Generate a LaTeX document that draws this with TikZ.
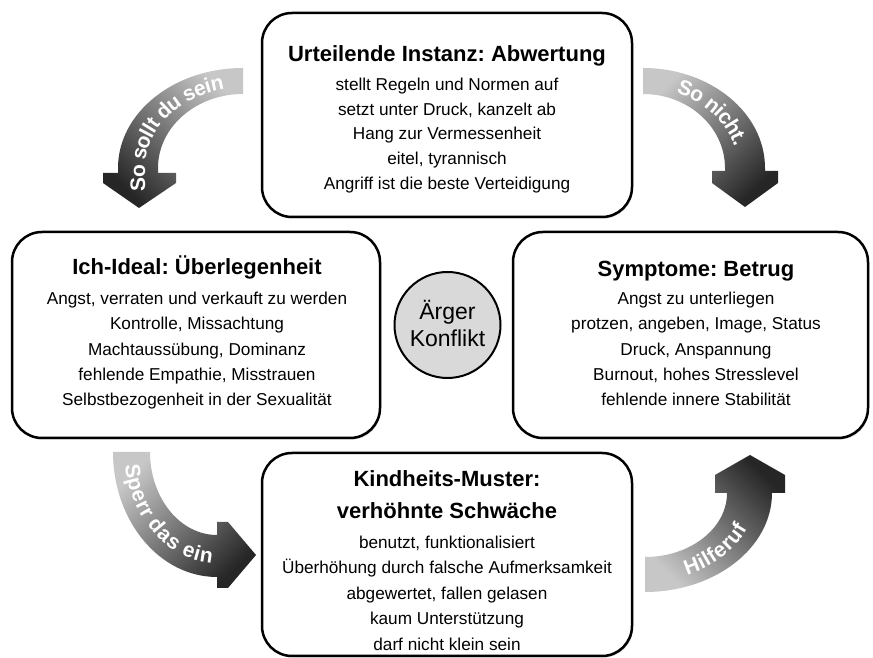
\documentclass[tikz,border=0pt]{standalone}
\usepackage{fontspec}
\setmainfont{Liberation Sans}
\usetikzlibrary{decorations.text,shadows}
\frenchspacing
\newcommand\titlefont{\fontsize{22}{26}\selectfont\bfseries}
\newcommand\bodyfont{\fontsize{17.2}{20}\selectfont}
\newcommand\circfont{\fontsize{23}{26}\selectfont}
\newcommand\arrowfont{\fontsize{21}{24}\selectfont\bfseries}
\tikzset{
  box/.style={draw=black, fill=white, line width=2.5pt, rounded corners=30pt,
    inner sep=0pt, drop shadow={shadow xshift=1pt, shadow yshift=-1.5pt, fill=black, opacity=0.25}},
  ttl/.style={font=\titlefont, anchor=base, inner sep=0pt},
  bdy/.style={font=\bodyfont, anchor=base, inner sep=0pt},
  ctxt/.style={font=\circfont, anchor=base, inner sep=0pt},
  bigarrow/.style={top color=black!22, bottom color=black!85},
  arrowtext/.style={decorate, decoration={text along path, text color=white, raise=-7pt}}
}
\begin{document}
\begin{tikzpicture}[x=1pt,y=1pt]
\useasboundingbox (0,0) rectangle (873,658);
% curved arrows
\shade[bigarrow, shading angle=-45]
  (243,590) arc[start angle=90,end angle=180,x radius=125pt,y radius=100pt]
  -- (118,485) -- (103,485) -- (103,475) -- (139,450) -- (176,475) -- (176,485) -- (158,485) -- (158,490)
  arc[start angle=180,end angle=90,x radius=85pt,y radius=74pt] -- cycle;
\shade[bigarrow, shading angle=45]
  (643,590) arc[start angle=90,end angle=0,x radius=122pt,y radius=100pt]
  -- (765,487) -- (778,487) -- (778,475) -- (745,451) -- (712,475) -- (712,487) -- (725,487) -- (725,490)
  arc[start angle=0,end angle=90,x radius=82pt,y radius=74pt] -- cycle;
\shade[bigarrow, shading angle=45]
  (113,206) arc[start angle=180,end angle=270,x radius=104pt,y radius=125pt]
  -- (217,70) -- (228,70) -- (256,103) -- (228,136) -- (217,136) -- (217,123)
  arc[start angle=270,end angle=180,x radius=67pt,y radius=83pt] -- cycle;
\shade[bigarrow, shading angle=135]
  (645,66) arc[start angle=270,end angle=360,x radius=127pt,y radius=99pt]
  -- (785,165) -- (785,183) -- (750,203) -- (715,183) -- (715,165) -- (727,165)
  arc[start angle=0,end angle=-90,x radius=82pt,y radius=64pt] -- cycle;
% arrow texts
\path[arrowtext, decoration={text={|\arrowfont|So sollt du sein}, text align={left, left indent=4pt}}]
  (138,462) -- (138,490) arc[start angle=180,end angle=90,x radius=105pt,y radius=87pt];
\path[arrowtext, decoration={text={|\arrowfont|So nicht.}, text align={left, left indent=36pt}}]
  (643,577) arc[start angle=90,end angle=0,x radius=102pt,y radius=87pt] -- (745,462);
\path[arrowtext, decoration={text={|\arrowfont|Sperr das ein}, text align={left, left indent=12pt}}]
  (131.5,206) arc[start angle=180,end angle=270,x radius=85.5pt,y radius=104pt] -- (250,102);
\path[arrowtext, decoration={text={|\arrowfont|Hilferuf}, text align={left, left indent=40pt}}]
  (645,83.5) arc[start angle=270,end angle=360,x radius=104.5pt,y radius=81.5pt] -- (749.5,195);
% boxes
\node[box, minimum width=370pt, minimum height=204pt] (top) at (447,543) {};
\node[box, minimum width=368pt, minimum height=206pt] (left) at (196,323) {};
\node[box, minimum width=355pt, minimum height=206pt] (right) at (690.5,323) {};
\node[box, minimum width=370pt, minimum height=203pt] (bottom) at (447,103.5) {};
\node[draw=black, fill=black!15, line width=2pt, circle, minimum size=106pt, inner sep=0pt] (conf) at (447.5,333) {};
% top texts
\node[ttl] (t0) at (447,596) {Urteilende Instanz: Abwertung};
\node[bdy] (t1) at (447,567) {stellt Regeln und Normen auf};
\node[bdy] (t2) at (447,542) {setzt unter Druck, kanzelt ab};
\node[bdy] (t3) at (447,518) {Hang zur Vermessenheit};
\node[bdy] (t4) at (447,493) {eitel, tyrannisch};
\node[bdy] (t5) at (447,468) {Angriff ist die beste Verteidigung};
% left texts
\node[ttl] (l0) at (197,383.5) {Ich-Ideal: Überlegenheit};
\node[bdy] (l1) at (197,353) {Angst, verraten und verkauft zu werden};
\node[bdy] (l2) at (197,328) {Kontrolle, Missachtung};
\node[bdy] (l3) at (197,302) {Machtaussübung, Dominanz};
\node[bdy] (l4) at (197,277) {fehlende Empathie, Misstrauen};
\node[bdy] (l5) at (197,252) {Selbstbezogenheit in der Sexualität};
% right texts
\node[ttl] (r0) at (696,381.5) {Symptome: Betrug};
\node[bdy] (r1) at (696,353) {Angst zu unterliegen};
\node[bdy] (r2) at (696,328) {protzen, angeben, Image, Status};
\node[bdy] (r3) at (696,302) {Druck, Anspannung};
\node[bdy] (r4) at (696,277) {Burnout, hohes Stresslevel};
\node[bdy] (r5) at (696,252) {fehlende innere Stabilität};
% bottom texts
\node[ttl] (b0) at (447,171.3) {Kindheits-Muster:};
\node[ttl] (b0b) at (447,139) {verhöhnte Schwäche};
\node[bdy] (b1) at (447,109) {benutzt, funktionalisiert};
\node[bdy] (b2) at (447,84) {Überhöhung durch falsche Aufmerksamkeit};
\node[bdy] (b3) at (447,58.5) {abgewertet, fallen gelasen};
\node[bdy] (b4) at (447,33) {kaum Unterstützung};
\node[bdy] (b5) at (447,7) {darf nicht klein sein};
% circle texts
\node[ctxt] (c1) at (447.5,338) {Ärger};
\node[ctxt] (c2) at (447.5,311) {Konflikt};
\end{tikzpicture}
\end{document}
